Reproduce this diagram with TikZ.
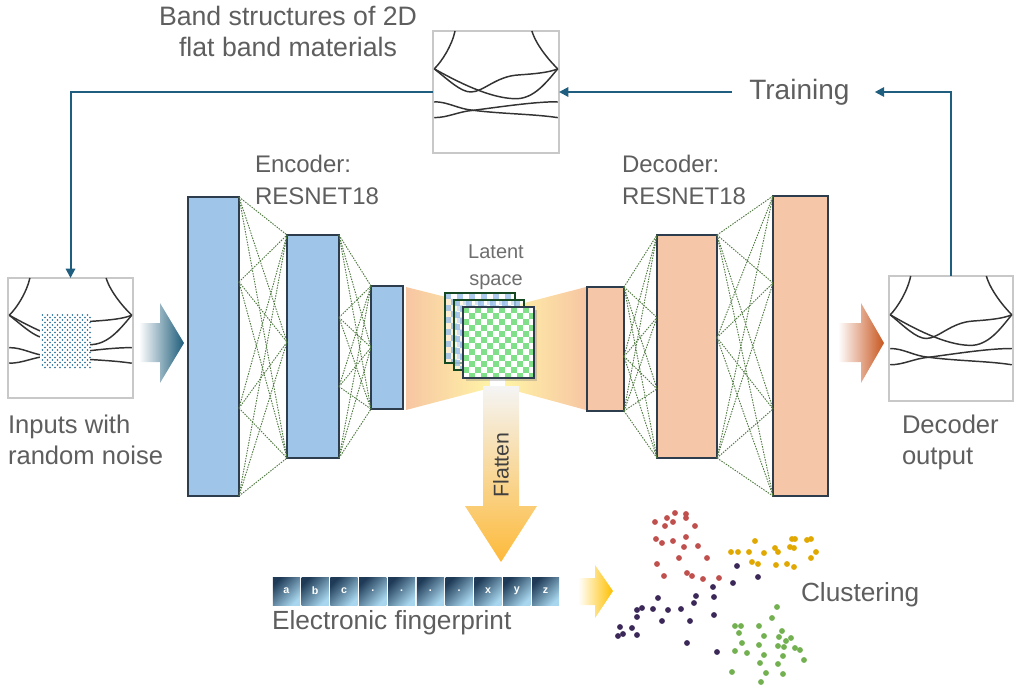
\documentclass[tikz,border=0pt]{standalone}
\usepackage{fontspec}
\setmainfont{Liberation Sans}
\usetikzlibrary{arrows.meta,calc,fit,shadows}
\definecolor{txt}{HTML}{5E5E5E}
\definecolor{encfill}{HTML}{9FC5E8}
\definecolor{decfill}{HTML}{F6C6A8}
\definecolor{edgec}{HTML}{2E3D4D}
\definecolor{connc}{HTML}{4F7A40}
\definecolor{fbc}{HTML}{1F5E7E}
\definecolor{imgb}{HTML}{C8C8C8}
\definecolor{bandc}{HTML}{333333}
\definecolor{peach}{HTML}{F7C6A3}
\definecolor{pale}{HTML}{FFF3A6}
\definecolor{chkg}{HTML}{80E08A}
\definecolor{chkb}{HTML}{8FB8E6}
\definecolor{gold}{HTML}{FDBA3A}
\definecolor{noisec}{HTML}{1F6A9A}
\definecolor{inarr}{HTML}{1D5C7A}
\definecolor{outarr}{HTML}{C8561F}
\definecolor{yelarr}{HTML}{FFC000}
\definecolor{clred}{HTML}{C0504D}
\definecolor{clyel}{HTML}{E0A800}
\definecolor{clpur}{HTML}{3B2858}
\definecolor{clgrn}{HTML}{72B050}
\definecolor{fpdark}{HTML}{1E3A56}
\definecolor{fplight}{HTML}{A8D6EE}
\newcommand{\myfs}[2]{\fontsize{#1}{#2}\selectfont}
\newcommand{\bandcurves}{%
 \draw[bandline] (0.175,0) .. controls (0.15,0.12) and (0.07,0.25) .. (0.01,0.31);
 \draw[bandline] (0.785,0) .. controls (0.82,0.12) and (0.93,0.25) .. (0.99,0.31);
 \draw[bandline] (0.01,0.31) .. controls (0.12,0.4) and (0.22,0.5) .. (0.3,0.5) .. controls (0.4,0.5) and (0.5,0.37) .. (0.68,0.36) .. controls (0.82,0.35) and (0.92,0.34) .. (0.99,0.31);
 \draw[bandline] (0.01,0.31) .. controls (0.2,0.42) and (0.45,0.55) .. (0.65,0.555) .. controls (0.8,0.56) and (0.9,0.42) .. (0.99,0.31);
 \draw[bandline] (0.01,0.58) .. controls (0.12,0.58) and (0.2,0.64) .. (0.32,0.65) .. controls (0.55,0.68) and (0.8,0.68) .. (0.99,0.71);
 \draw[bandline] (0.01,0.71) .. controls (0.12,0.71) and (0.2,0.66) .. (0.32,0.65) .. controls (0.55,0.62) and (0.8,0.58) .. (0.99,0.58);
}
\newcommand{\checker}[3]{%
 \foreach \i in {0,...,11} {\foreach \j in {0,...,11} {%
  \pgfmathtruncatemacro\pk{mod(\i+\j,2)}%
  \ifnum\pk=0 \fill[#3] ({#1+6*\i},{#2+6*\j}) rectangle ++(6,6);\fi}}}
\begin{document}
\begin{tikzpicture}[x=0.75pt,y=-0.75pt,
 layer/.style={draw=edgec, line width=1.1pt, inner sep=0pt, outer sep=0pt},
 enc/.style={layer, fill=encfill},
 dec/.style={layer, fill=decfill},
 link/.style={draw=connc, dash pattern=on 1.1pt off 0.9pt, line width=0.7pt},
 imgbox/.style={draw=imgb, line width=1pt, fill=white, inner sep=0pt, outer sep=0pt},
 bandline/.style={draw=bandc, line width=1.1pt},
 lbl/.style={text=txt, inner sep=0pt, outer sep=0pt},
 fbline/.style={draw=fbc, line width=1.5pt},
 fbarrow/.style={fbline, -{Triangle[length=7pt,width=7pt]}},
 latb/.style={draw=edgec!70!green!60!black, line width=1.1pt, inner sep=0pt, outer sep=0pt, fill=white, fill opacity=0.5},
 latf/.style={draw=edgec, line width=1.5pt, inner sep=0pt, outer sep=0pt, fill=white, drop shadow={opacity=0.35, shadow xshift=2pt, shadow yshift=-2pt}},
 fpcell/.style={minimum width=20.4pt, minimum height=21pt, inner sep=0pt, top color=fpdark, bottom color=fplight, shading angle=45, text=white, font=\myfs{8}{9}\bfseries}
]
\useasboundingbox (0,0) rectangle (1014,687);

% ---------- images ----------
\node[imgbox, fit={(433,31) (559,153)}] (topimg) {};
\begin{scope}[shift={(topimg.north west)}, x=94.5pt, y=-91.5pt]
 \bandcurves
\end{scope}
\node[imgbox, fit={(8,278) (133,398)}] (inp) {};
\begin{scope}[shift={(inp.north west)}, x=93.75pt, y=-90pt]
 \bandcurves
\end{scope}
\fill[white] (40,313) rectangle (90,368);
\foreach \j in {0,...,21} {
 \pgfmathsetmacro\off{mod(\j,2)*2.5}
 \foreach \i in {0,...,9} \fill[noisec] (42.5+5*\i+\off, 315+2.5*\j) circle (0.7pt);
}
\node[imgbox, fit={(889,276) (1013,401)}] (outimg) {};
\begin{scope}[shift={(outimg.north west)}, x=93pt, y=-93.75pt]
 \bandcurves
\end{scope}

% ---------- feedback arrows ----------
\node[lbl, anchor=west, inner xsep=13pt, font=\myfs{21}{25}] (train) at (732,92) {Training};
\draw[fbarrow] (topimg.west) -| (inp.north);
\draw[fbarrow] (outimg.north) |- ([xshift=6pt]train.east);
\draw[fbarrow] (train.west) -- (train.west -| topimg.east);

% ---------- trapezoids ----------
\shade[left color=peach, right color=pale] (406,287) -- (490,308) -- (490,388) -- (406,410) -- cycle;
\shade[left color=pale, right color=peach] (505,308) -- (586,287) -- (586,410) -- (505,388) -- cycle;

% ---------- layers ----------
\node[enc, fit={(188,197) (239,496)}] (e1) {};
\node[enc, fit={(287,235) (339,458)}] (e2) {};
\node[enc, fit={(371,286) (403,409)}] (e3) {};
\node[dec, fit={(587,287) (624,411)}] (d1) {};
\node[dec, fit={(657,235) (717,458)}] (d2) {};
\node[dec, fit={(773,196) (828,496)}] (d3) {};

\foreach \a in {0,0.284,0.706,1} \foreach \b in {0,0.48,1}
 \draw[link] ($(e1.north east)!\a!(e1.south east)$) -- ($(e2.north west)!\b!(e2.south west)$);
\foreach \a in {0,0.37,0.68,1} \foreach \b in {0,0.5,1}
 \draw[link] ($(e2.north east)!\a!(e2.south east)$) -- ($(e3.north west)!\b!(e3.south west)$);
\foreach \a in {0,0.56,1} \foreach \b in {0,0.37,0.69,1}
 \draw[link] ($(d1.north east)!\a!(d1.south east)$) -- ($(d2.north west)!\b!(d2.south west)$);
\foreach \a in {0,0.46,1} \foreach \b in {0,0.29,0.71,1}
 \draw[link] ($(d2.north east)!\a!(d2.south east)$) -- ($(d3.north west)!\b!(d3.south west)$);

% ---------- latent stack ----------
\node[latb, fit={(445,293) (515,363)}] (lat1) {};
\begin{scope}
 \clip (lat1.north west) rectangle (lat1.south east);
 \checker{445}{293}{chkb, opacity=0.75}
\end{scope}
\draw[draw=edgec!70!green!60!black, line width=1.1pt] (lat1.north west) rectangle (lat1.south east);
\node[latb, fit={(454,300) (524,370)}] (lat2) {};
\begin{scope}
 \clip (lat2.north west) rectangle (lat2.south east);
 \checker{454}{300}{chkb, opacity=0.75}
\end{scope}
\draw[draw=edgec!70!green!60!black, line width=1.1pt] (lat2.north west) rectangle (lat2.south east);
\node[latf, fit={(463,307) (534,378)}] (lat3) {};
\begin{scope}
 \clip (lat3.north west) rectangle (lat3.south east);
 \checker{463}{307}{chkg}
\end{scope}
\draw[draw=edgec, line width=1.5pt] (lat3.north west) rectangle (lat3.south east);
\node[lbl, anchor=north, align=center, text=txt!90!white, font=\myfs{15}{20}] (latlbl) at (496,245) {Latent\\space};

% ---------- block arrows ----------
\shade[left color=white, right color=inarr] (139,323) -- (160,323) -- (160,303) -- (184,343) -- (160,383) -- (160,362) -- (139,362) -- cycle;
\shade[left color=white, right color=outarr] (838,323) -- (861,323) -- (861,303) -- (884,343) -- (861,383) -- (861,362) -- (838,362) -- cycle;
\shade[top color=white!92!gray, bottom color=gold] (483,386) -- (519,386) -- (519,506) -- (537,506) -- (501,562) -- (465,506) -- (483,506) -- cycle;
\node[lbl, rotate=90, text=black!75, font=\myfs{16}{19}] (flat) at (501,465) {Flatten};
\shade[left color=white, right color=yelarr] (578,578) -- (595,578) -- (595,565) -- (613,591) -- (595,618) -- (595,605) -- (578,605) -- cycle;

% ---------- fingerprint ----------
\foreach \t [count=\k] in {a,b,c,.,.,.,.,x,y,z}
 \node[fpcell] (fp\k) at ({286.4+28.8*(\k-1)},591) {\t};

% ---------- clusters ----------
\foreach \p in {(675,513),(686,514),(686,518),(667,518),(655,522),(673,522),(665,526),(695,526),(656,539),(662,543),(673,541),(686,537),(684,547),(698,546),(679,558),(707,558),(657,564),(687,573),(692,576),(664,576),(703,579),(719,578)}
 \fill[clred] \p circle (2.2pt);
\foreach \p in {(755,541),(731,552),(738,552),(749,552),(764,553),(775,548),(778,552),(792,539),(795,539),(807,540),(811,539),(790,547),(794,548),(816,552),(811,558),(752,562),(758,564),(776,565),(787,564),(794,567)}
 \fill[clyel] \p circle (2.2pt);
\foreach \p in {(737,566),(758,577),(733,583),(713,587),(714,597),(696,596),(694,603),(658,598),(642,608),(637,610),(653,609),(668,610),(681,609),(690,621),(714,615),(637,617),(662,621),(620,627),(632,628),(618,636),(623,634),(637,635),(687,643),(717,652)}
 \fill[clpur] \p circle (2.2pt);
\foreach \p in {(777,607),(772,618),(735,626),(741,626),(759,626),(782,631),(739,633),(764,636),(779,637),(786,641),(791,638),(742,643),(759,645),(778,646),(784,647),(795,648),(800,650),(735,651),(747,653),(764,655),(783,656),(804,660),(760,663),(778,664),(732,672),(766,673),(783,674),(761,682)}
 \fill[clgrn] \p circle (2.2pt);

% ---------- labels ----------
\node[lbl, anchor=north, align=center, font=\myfs{20}{23.25}] (bandlbl) at (288,6) {Band structures of 2D\\flat band materials};
\node[lbl, anchor=north west, align=left, font=\myfs{18}{24}] (enclbl) at (255,155) {Encoder:\\RESNET18};
\node[lbl, anchor=north west, align=left, font=\myfs{18}{24}] (declbl) at (622,155) {Decoder:\\RESNET18};
\node[lbl, anchor=north west, align=left, font=\myfs{19.2}{23.25}] (inlbl) at (8,415) {Inputs with\\random noise};
\node[lbl, anchor=north west, align=left, font=\myfs{19.2}{23.25}] (outlbl) at (902,415) {Decoder\\output};
\node[lbl, anchor=north west, font=\myfs{19.7}{23}] (fplbl) at (272,610) {Electronic fingerprint};
\node[lbl, anchor=north west, font=\myfs{19.7}{23}] (cllbl) at (801,582) {Clustering};
\end{tikzpicture}
\end{document}
